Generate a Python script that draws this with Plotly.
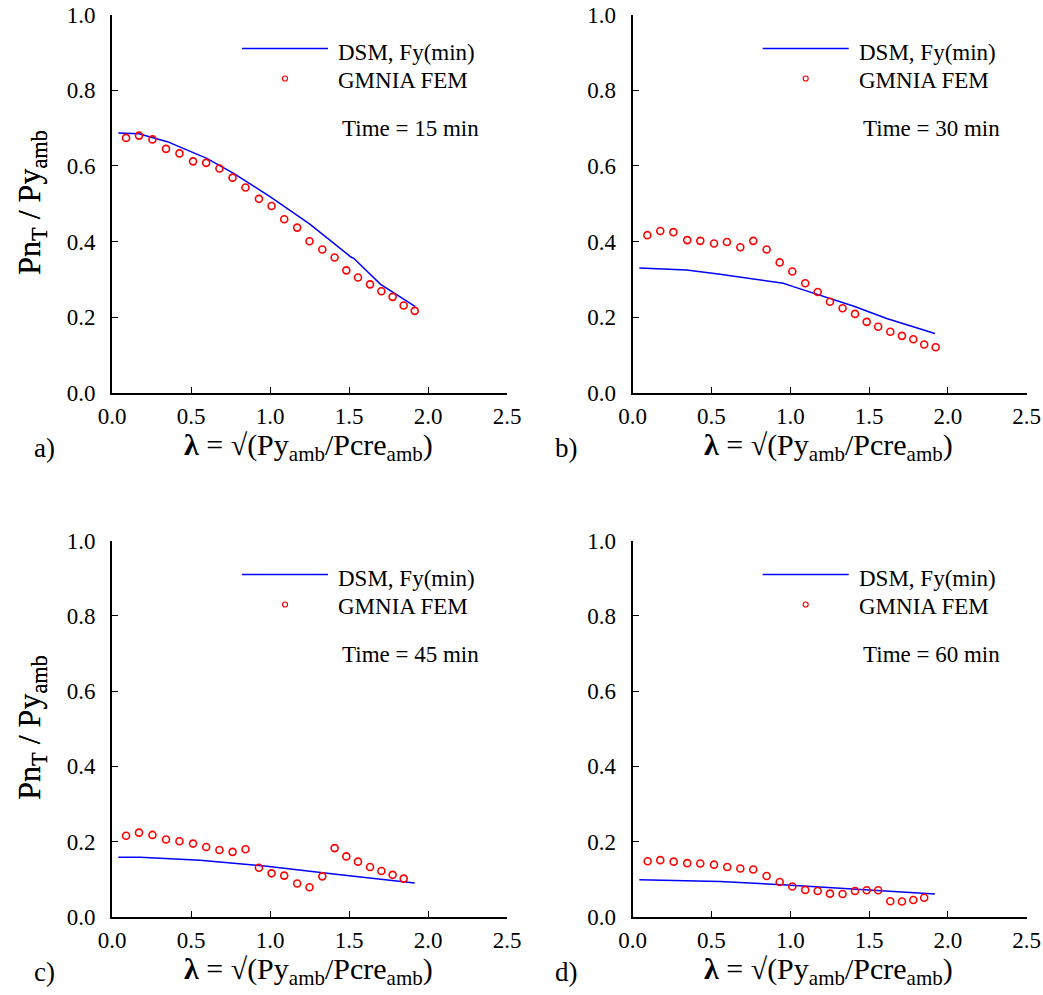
import plotly.graph_objects as go

# ---------------- data ----------------
# Panel a (Time = 15 min)
fem_a_x = [0.089, 0.171, 0.256, 0.342, 0.427, 0.513, 0.596, 0.680, 0.763, 0.845, 0.930, 1.010,
           1.090, 1.172, 1.250, 1.331, 1.409, 1.483, 1.557, 1.633, 1.705, 1.776, 1.846, 1.916]
fem_a_y = [0.674, 0.680, 0.670, 0.645, 0.633, 0.612, 0.608, 0.593, 0.569, 0.543, 0.513, 0.494,
           0.459, 0.437, 0.401, 0.379, 0.358, 0.324, 0.305, 0.287, 0.269, 0.254, 0.231, 0.217]
dsm_a_x = [0.04, 0.17, 0.35, 0.60, 0.77, 1.00, 1.25, 1.51, 1.53, 1.70, 1.92]
dsm_a_y = [0.687, 0.685, 0.664, 0.620, 0.580, 0.519, 0.447, 0.360, 0.356, 0.287, 0.228]

# Panel b (Time = 30 min)
fem_b_x = [0.093, 0.175, 0.258, 0.346, 0.429, 0.516, 0.598, 0.683, 0.765, 0.850, 0.933, 1.013,
           1.095, 1.174, 1.252, 1.332, 1.411, 1.485, 1.558, 1.635, 1.709, 1.781, 1.850, 1.923]
fem_b_y = [0.417, 0.428, 0.425, 0.404, 0.402, 0.395, 0.399, 0.385, 0.402, 0.379, 0.345, 0.321,
           0.290, 0.267, 0.241, 0.224, 0.209, 0.188, 0.175, 0.162, 0.151, 0.142, 0.128, 0.121]
dsm_b_x = [0.042, 0.343, 0.554, 0.765, 0.956, 1.019, 1.188, 1.400, 1.612, 1.918]
dsm_b_y = [0.330, 0.325, 0.314, 0.302, 0.290, 0.281, 0.259, 0.230, 0.197, 0.157]

# Panel c (Time = 45 min)
fem_c_x = [0.089, 0.171, 0.256, 0.342, 0.427, 0.513, 0.596, 0.680, 0.763, 0.845, 0.930, 1.010,
           1.090, 1.172, 1.250, 1.331, 1.409, 1.483, 1.557, 1.633, 1.705, 1.776, 1.846]
fem_c_y = [0.216, 0.224, 0.218, 0.206, 0.201, 0.195, 0.186, 0.178, 0.173, 0.180, 0.131, 0.116,
           0.110, 0.089, 0.079, 0.108, 0.183, 0.161, 0.147, 0.133, 0.122, 0.112, 0.102]
dsm_c_x = [0.04, 0.177, 0.558, 0.980, 1.402, 1.916]
dsm_c_y = [0.159, 0.159, 0.151, 0.135, 0.114, 0.090]

# Panel d (Time = 60 min)
fem_d_x = [0.095, 0.175, 0.260, 0.346, 0.429, 0.516, 0.600, 0.683, 0.765, 0.850, 0.933, 1.013,
           1.095, 1.174, 1.252, 1.332, 1.411, 1.485, 1.558, 1.635, 1.709, 1.781, 1.850]
fem_d_y = [0.148, 0.151, 0.147, 0.143, 0.142, 0.139, 0.133, 0.129, 0.126, 0.109, 0.093, 0.081,
           0.072, 0.069, 0.062, 0.061, 0.069, 0.071, 0.071, 0.042, 0.041, 0.045, 0.051]
dsm_d_x = [0.042, 0.554, 0.977, 1.400, 1.918]
dsm_d_y = [0.099, 0.094, 0.085, 0.074, 0.061]

panel_labels = ["a)", "b)", "c)", "d)"]
time_labels = ["Time = 15 min", "Time = 30 min", "Time = 45 min", "Time = 60 min"]
x_ticks = [0.0, 0.5, 1.0, 1.5, 2.0, 2.5]
y_ticks = [0.0, 0.2, 0.4, 0.6, 0.8, 1.0]

# ---------------- layout helpers ----------------
W, H = 1043, 995
FONT = "Liberation Serif, Times New Roman, serif"


def fx(p):
    return p / W


def fy(p):
    return 1 - p / H


# screen-pixel boxes of plot areas: (left, right, top, bottom)
boxes = [
    (112, 507, 14.5, 393),
    (632.7, 1026.6, 14.5, 393),
    (112, 507, 540.5, 917),
    (632.7, 1026.6, 540.5, 917),
]

series = [
    (fem_a_x, fem_a_y, dsm_a_x, dsm_a_y),
    (fem_b_x, fem_b_y, dsm_b_x, dsm_b_y),
    (fem_c_x, fem_c_y, dsm_c_x, dsm_c_y),
    (fem_d_x, fem_d_y, dsm_d_x, dsm_d_y),
]

fig = go.Figure()
annotations = []
shapes = []

for i, ((l, r, t, b), (fx_, fy_, dx, dy)) in enumerate(zip(boxes, series)):
    n = "" if i == 0 else str(i + 1)
    xa, ya = "x" + n, "y" + n
    fig.add_trace(go.Scatter(x=dx, y=dy, mode="lines", line=dict(color="#0000ff", width=1.5),
                             xaxis=xa, yaxis=ya, showlegend=False, name="DSM, Fy(min)"))
    fig.add_trace(go.Scatter(x=fx_, y=fy_, mode="markers",
                             marker=dict(symbol="circle-open", size=7, color="#ff0000",
                                         line=dict(width=1.6, color="#ff0000")),
                             xaxis=xa, yaxis=ya, showlegend=False, name="GMNIA FEM"))
    axis_common = dict(showline=True, linecolor="black", linewidth=2, ticks="inside",
                       ticklen=6, tickwidth=1, tickcolor="black", showgrid=False,
                       zeroline=False, mirror=False, automargin=False,
                       tickfont=dict(family=FONT, size=23, color="black"))
    fig.layout["xaxis" + n] = dict(domain=[fx(l), fx(r)], range=[0, 2.5], tickvals=x_ticks,
                                   tickformat=".1f", anchor=ya, ticklabelstandoff=1,
                                   **axis_common)
    fig.layout["yaxis" + n] = dict(domain=[fy(b), fy(t)], range=[0, 1.0], tickvals=y_ticks,
                                   tickformat=".1f", anchor=xa, ticklabelstandoff=10,
                                   **axis_common)

    # axis titles
    annotations.append(dict(x=fx(32), y=fy((t + b) / 2 - 1), xref="paper", yref="paper",
                            text="Pn<sub>T</sub> / Py<sub>amb</sub>", textangle=-90,
                            showarrow=False, xanchor="center", yanchor="middle",
                            font=dict(family=FONT, size=32, color="black")))
    annotations.append(dict(x=fx((l + r) / 2 - 1), y=fy(b + 54), xref="paper", yref="paper",
                            text="<b>λ</b> = √(Py<sub>amb</sub>/Pcre<sub>amb</sub>)",
                            showarrow=False, xanchor="center", yanchor="middle",
                            font=dict(family=FONT, size=30, color="black")))
    # panel label
    annotations.append(dict(x=fx(l - 80), y=fy(b + 55), xref="paper", yref="paper",
                            text=panel_labels[i], showarrow=False, xanchor="left",
                            yanchor="middle", font=dict(family=FONT, size=27, color="black")))
    # legend
    ly1 = t + 34
    ly2 = t + 64
    shapes.append(dict(type="line", xref="paper", yref="paper", x0=fx(l + 130), x1=fx(l + 216),
                       y0=fy(ly1), y1=fy(ly1), line=dict(color="#0000ff", width=1.5)))
    shapes.append(dict(type="circle", xref="paper", yref="paper", xsizemode="pixel",
                       ysizemode="pixel", xanchor=fx(l + 173), yanchor=fy(ly2),
                       x0=-2.5, x1=2.5, y0=-2.5, y1=2.5, line=dict(color="#ff0000", width=1.2)))
    annotations.append(dict(x=fx(l + 224), y=fy(t + 38), xref="paper", yref="paper",
                            text="DSM, Fy(min)", showarrow=False, xanchor="left", yanchor="middle",
                            font=dict(family=FONT, size=23, color="black")))
    annotations.append(dict(x=fx(l + 224), y=fy(t + 66), xref="paper", yref="paper",
                            text="GMNIA FEM", showarrow=False, xanchor="left", yanchor="middle",
                            font=dict(family=FONT, size=23, color="black")))
    annotations.append(dict(x=fx(l + 228), y=fy(t + 114), xref="paper", yref="paper",
                            text=time_labels[i], showarrow=False, xanchor="left", yanchor="middle",
                            font=dict(family=FONT, size=23, color="black")))

fig.update_layout(template="none", width=W, height=H, margin=dict(l=0, r=0, t=0, b=0),
                  paper_bgcolor="white", plot_bgcolor="white",
                  annotations=annotations, shapes=shapes, showlegend=False,
                  font=dict(family=FONT, color="black"))

# remove the default 8px page margin so the figure fills the window exactly
fig.write_html("out.html", config={"displayModeBar": False},
               post_script="document.body.style.margin='0';document.body.style.overflow='hidden';")
